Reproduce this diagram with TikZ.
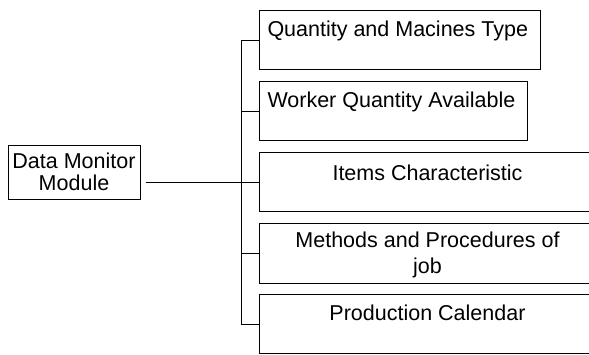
\documentclass[tikz,border=0pt]{standalone}
\usepackage{fontspec}
\setmainfont{Liberation Sans}
\begin{document}
\begin{tikzpicture}[x=1pt,y=-1pt,
  line width=1pt,
  every node/.style={font=\fontsize{21.5}{26}\selectfont},
  box/.style={draw, rectangle, inner sep=0pt, anchor=north west, minimum height=59pt},
  lefttext/.style={anchor=north west, inner sep=0pt, xshift=8pt, yshift=-10pt},
  midtext/.style={anchor=north, inner sep=0pt, align=center, yshift=-10pt}]
  \useasboundingbox (0,0) rectangle (589,354);
  \clip (0,0) rectangle (589,354);

  % root module
  \node[draw, rectangle, inner sep=0pt, minimum width=132pt, minimum height=54pt,
        align=center, font=\fontsize{21.5}{22.5}\selectfont]
        (dm) at (74,172) {Data Monitor\\Module};

  % sub-modules
  \node[box, minimum width=281pt] (b1) at (259,10) {};
  \node[box, minimum width=268pt] (b2) at (259,81) {};
  \node[box, minimum width=336pt] (b3) at (259,152) {};
  \node[box, minimum width=336pt, minimum height=60pt] (b4) at (259,223) {};
  \node[box, minimum width=336pt] (b5) at (259,294) {};

  \node[lefttext] (t1) at (b1.north west) {Quantity and Macines Type};
  \node[lefttext] (t2) at (b2.north west) {Worker Quantity Available};
  \node[midtext, yshift=-2pt] (t3) at (b3.north) {Items Characteristic};
  \node[midtext, yshift=2pt] (t4) at (b4.north) {Methods and Procedures of\\job};
  \node[midtext] (t5) at (b5.north) {Production Calendar};

  % tree connectors
  \coordinate (sp) at (241,0);
  \draw (b1.west) -- (b1.west -| sp) -- (b5.west -| sp) -- (b5.west);
  \draw (b2.west) -- (b2.west -| sp);
  \draw (b3.west) -- (b3.west -| sp);
  \draw (b4.west) -- (b4.west -| sp);
  \draw[shorten <=5pt] (dm.east |- b3.west) -- (b3.west -| sp);
\end{tikzpicture}
\end{document}
